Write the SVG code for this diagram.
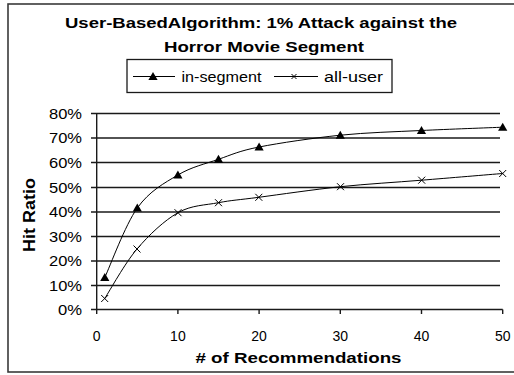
<svg xmlns="http://www.w3.org/2000/svg" xmlns:xlink="http://www.w3.org/1999/xlink" width="514" height="375" viewBox="0 0 514 375">
  <style>
    text { font-family: "Liberation Sans", Arial, sans-serif; fill: #000; }
    .title { font-size: 15.5px; font-weight: bold; text-anchor: middle; }
    .axis-title { font-size: 15.5px; font-weight: bold; text-anchor: middle; }
    .ytitle { font-size: 17px; font-weight: bold; text-anchor: middle; }
    .ytick { font-size: 14px; text-anchor: end; }
    .xtick { font-size: 14px; text-anchor: middle; }
    .legend-text { font-size: 14px; }
    .grid { stroke: #1a1a1a; stroke-width: 1.4; fill: none; }
    .axis { stroke: #1a1a1a; stroke-width: 1.4; fill: none; }
    .series { stroke: #000; stroke-width: 1; fill: none; }
    .xmark { stroke: #000; stroke-width: 1; fill: none; }
  </style>
  <defs>
    <path id="tri" d="M0,-4.5 L4.6,3.5 L-4.6,3.5 Z" fill="#000"/>
    <path id="cross" d="M-3.5,-3.5 L3.5,3.5 M-3.5,3.5 L3.5,-3.5" class="xmark"/>
    <path id="cross-sm" d="M-2.5,-2.5 L2.5,2.5 M-2.5,2.5 L2.5,-2.5" class="xmark"/>
  </defs>

  <rect x="0" y="0" width="514" height="375" fill="#fff"/>
  <!-- chart frame -->
  <rect x="8" y="4" width="512" height="368" fill="none" stroke="#3a3a3a" stroke-width="1.6"/>

  <!-- title -->
  <g id="title">
    <text class="title" x="261" y="27.5" textLength="392" lengthAdjust="spacingAndGlyphs">User-BasedAlgorithm: 1% Attack against the</text>
    <text class="title" x="264" y="52" textLength="200" lengthAdjust="spacingAndGlyphs">Horror Movie Segment</text>
  </g>

  <!-- legend -->
  <g id="legend">
    <rect x="127" y="59.5" width="265" height="33" fill="none" stroke="#1a1a1a" stroke-width="1.3"/>
    <line x1="133" y1="76.5" x2="175" y2="76.5" class="series"/>
    <use xlink:href="#tri" x="153" y="76.5"/>
    <text class="legend-text" x="181.5" y="82" textLength="80" lengthAdjust="spacingAndGlyphs">in-segment</text>
    <line x1="274" y1="76.5" x2="318" y2="76.5" class="series"/>
    <use xlink:href="#cross-sm" x="294" y="76.5"/>
    <text class="legend-text" x="324" y="82" textLength="59" lengthAdjust="spacingAndGlyphs">all-user</text>
  </g>

  <!-- gridlines and axes -->
  <g id="axes">
    <line x1="91" y1="113.5" x2="500" y2="113.5" class="grid"/>
    <line x1="91" y1="138" x2="500" y2="138" class="grid"/>
    <line x1="91" y1="162.5" x2="500" y2="162.5" class="grid"/>
    <line x1="91" y1="187.5" x2="500" y2="187.5" class="grid"/>
    <line x1="91" y1="212" x2="500" y2="212" class="grid"/>
    <line x1="91" y1="236.5" x2="500" y2="236.5" class="grid"/>
    <line x1="91" y1="261" x2="500" y2="261" class="grid"/>
    <line x1="91" y1="285.5" x2="500" y2="285.5" class="grid"/>
    <line x1="91" y1="309.5" x2="502.7" y2="309.5" class="axis"/>
    <line x1="96.7" y1="113.5" x2="96.7" y2="314" class="axis"/>
    <!-- x ticks -->
    <path class="axis" d="M177.9,309.5 V314 M259.1,309.5 V314 M340.3,309.5 V314 M421.5,309.5 V314 M502.7,309.5 V314"/>
  </g>

  <!-- y tick labels -->
  <g id="y-labels">
    <text class="ytick" x="82" y="118.5" textLength="33" lengthAdjust="spacingAndGlyphs">80%</text>
    <text class="ytick" x="82" y="143" textLength="33" lengthAdjust="spacingAndGlyphs">70%</text>
    <text class="ytick" x="82" y="167.5" textLength="33" lengthAdjust="spacingAndGlyphs">60%</text>
    <text class="ytick" x="82" y="192.5" textLength="33" lengthAdjust="spacingAndGlyphs">50%</text>
    <text class="ytick" x="82" y="217" textLength="33" lengthAdjust="spacingAndGlyphs">40%</text>
    <text class="ytick" x="82" y="241.5" textLength="33" lengthAdjust="spacingAndGlyphs">30%</text>
    <text class="ytick" x="82" y="266" textLength="33" lengthAdjust="spacingAndGlyphs">20%</text>
    <text class="ytick" x="82" y="290.5" textLength="33" lengthAdjust="spacingAndGlyphs">10%</text>
    <text class="ytick" x="82" y="314.5" textLength="24" lengthAdjust="spacingAndGlyphs">0%</text>
  </g>

  <!-- x tick labels -->
  <g id="x-labels">
    <text class="xtick" x="96.7" y="341">0</text>
    <text class="xtick" x="177.9" y="341">10</text>
    <text class="xtick" x="259.1" y="341">20</text>
    <text class="xtick" x="340.3" y="341">30</text>
    <text class="xtick" x="421.5" y="341">40</text>
    <text class="xtick" x="502.7" y="341">50</text>
  </g>

  <!-- axis titles -->
  <text class="axis-title" x="298.5" y="362.5" textLength="206" lengthAdjust="spacingAndGlyphs"># of Recommendations</text>
  <text class="ytitle" transform="translate(34.5,215) rotate(-90)" x="0" y="0" textLength="74" lengthAdjust="spacingAndGlyphs">Hit Ratio</text>

  <!-- data series -->
  <g id="connectors">
    <path id="in-segment-line" class="series" d="M104.8,277.5 C110.2,265.9 125.1,225.1 137.3,208 C149.5,190.9 164.4,183.1 177.9,175 C191.4,166.9 205,164 218.5,159.3 C232,154.6 238.8,151 259.1,147 C279.4,143 313.2,138 340.3,135.2 C367.4,132.45 394.4,131.8 421.5,130.5 C448.6,129.2 489.2,127.75 502.7,127.2"/>
    <path id="all-user-line" class="series" d="M104.7,298.5 C110.1,290.25 124.8,263.3 137,249 C149.2,234.7 164.4,220.4 178,212.7 C191.6,205 205,205.3 218.5,202.7 C232,200.1 238.5,200 258.8,197.3 C279.1,194.6 313.35,189.55 340.5,186.7 C367.65,183.85 394.7,182.4 421.7,180.2 C448.7,178 489.2,174.6 502.7,173.5"/>
  </g>

  <g id="in-segment-markers">
    <use xlink:href="#tri" x="104.8" y="277.5"/>
    <use xlink:href="#tri" x="137.3" y="208"/>
    <use xlink:href="#tri" x="177.9" y="175"/>
    <use xlink:href="#tri" x="218.5" y="159.3"/>
    <use xlink:href="#tri" x="259.1" y="147"/>
    <use xlink:href="#tri" x="340.3" y="135.2"/>
    <use xlink:href="#tri" x="421.5" y="130.5"/>
    <use xlink:href="#tri" x="502.7" y="127.2"/>
  </g>
  <g id="all-user-markers">
    <use xlink:href="#cross" x="104.7" y="298.5"/>
    <use xlink:href="#cross" x="137" y="249"/>
    <use xlink:href="#cross" x="178" y="212.7"/>
    <use xlink:href="#cross" x="218.5" y="202.7"/>
    <use xlink:href="#cross" x="258.8" y="197.3"/>
    <use xlink:href="#cross" x="340.5" y="186.7"/>
    <use xlink:href="#cross" x="421.7" y="180.2"/>
    <use xlink:href="#cross" x="502.7" y="173.5"/>
  </g>
</svg>
